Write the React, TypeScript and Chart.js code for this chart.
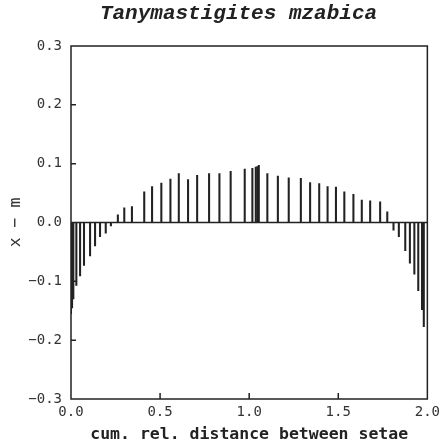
import React, { useEffect, useRef } from "react";
import { Chart, registerables } from "chart.js";
Chart.register(...registerables);

const titleText = "Tanymastigites mzabica";
const xAxisLabel = "cum. rel. distance between setae";
const yAxisLabel = "x \u2212 m";

const positions = [
  0.0, 0.006, 0.013, 0.03, 0.051, 0.073, 0.107, 0.135, 0.163, 0.195, 0.224,
  0.263, 0.299, 0.342, 0.411, 0.455, 0.507, 0.558, 0.605, 0.657, 0.708,
  0.775, 0.833, 0.896, 0.975, 1.018, 1.037, 1.046, 1.054, 1.102, 1.161,
  1.222, 1.29, 1.342, 1.393, 1.44, 1.487, 1.534, 1.585, 1.632, 1.679,
  1.735, 1.775, 1.81, 1.84, 1.876, 1.902, 1.927, 1.949, 1.97, 1.98,
];
const values = [
  -0.155, -0.145, -0.13, -0.107, -0.091, -0.073, -0.057, -0.04, -0.024, -0.018, -0.006,
  0.013, 0.025, 0.027, 0.052, 0.061, 0.067, 0.074, 0.083, 0.073, 0.08,
  0.083, 0.083, 0.087, 0.091, 0.092, 0.094, 0.095, 0.097, 0.083, 0.079,
  0.076, 0.075, 0.068, 0.066, 0.061, 0.06, 0.052, 0.048, 0.038, 0.037,
  0.035, 0.018, -0.013, -0.024, -0.048, -0.069, -0.088, -0.116, -0.148, -0.177,
];
const xTickValues = [0.5, 1.0, 1.5];
const yTickValues = [-0.2, -0.1, 0.1, 0.2];

const ink = "#222";

const fmt = (v: number) => {
  const r = Math.round(v * 10) / 10;
  if (Math.abs(r) < 1e-9) return "0.0";
  return r < 0 ? "\u2212" + Math.abs(r).toFixed(1) : r.toFixed(1);
};

const framePlugin = {
  id: "frame",
  beforeDatasetsDraw(chart: any) {
    const { ctx, chartArea: a, scales } = chart;
    const y0 = scales.y.getPixelForValue(0);
    ctx.save();
    ctx.strokeStyle = ink;
    ctx.lineWidth = 1.5;
    ctx.beginPath();
    ctx.moveTo(a.left, y0);
    ctx.lineTo(a.right, y0);
    ctx.stroke();
    ctx.restore();
  },
  afterDraw(chart: any) {
    const { ctx, chartArea: a, scales } = chart;
    ctx.save();
    ctx.strokeStyle = ink;
    ctx.lineWidth = 1.5;
    ctx.strokeRect(a.left, a.top, a.right - a.left, a.bottom - a.top);
    ctx.beginPath();
    for (const v of yTickValues) {
      const py = scales.y.getPixelForValue(v);
      ctx.moveTo(a.left, py);
      ctx.lineTo(a.left + 5, py);
    }
    for (const v of xTickValues) {
      const px = scales.x.getPixelForValue(v);
      ctx.moveTo(px, a.bottom);
      ctx.lineTo(px, a.bottom - 6);
    }
    ctx.stroke();
    ctx.fillStyle = ink;
    ctx.font = "italic bold 21px 'Liberation Mono'";
    ctx.textAlign = "center";
    ctx.textBaseline = "middle";
    ctx.fillText(titleText, 238.5, 14);
    ctx.restore();
  },
};

export default function App() {
  const ref = useRef<HTMLCanvasElement>(null);
  useEffect(() => {
    document.body.style.margin = "0";
    const chart = new Chart(ref.current!, {
      type: "bar",
      data: {
        datasets: [
          {
            data: positions.map((x, i) => ({ x, y: values[i] })),
            backgroundColor: ink,
            borderWidth: 0,
            barThickness: 1.4,
            grouped: false,
          } as any,
        ],
      },
      options: {
        responsive: false,
        animation: false,
        layout: { padding: { top: 46, right: 17, left: 0, bottom: 0 } },
        plugins: { legend: { display: false }, tooltip: { enabled: false }, title: { display: false } },
        scales: {
          x: {
            type: "linear",
            min: 0,
            max: 2,
            offset: false,
            grid: { display: false, drawTicks: false },
            border: { display: false },
            ticks: {
              stepSize: 0.5,
              padding: 5,
              color: "#333",
              font: { family: "'DejaVu Sans Mono'", size: 14 },
              callback: (v: any) => fmt(Number(v)),
              maxRotation: 0,
            },
            title: {
              display: true,
              text: xAxisLabel,
              color: ink,
              font: { family: "'DejaVu Sans Mono'", size: 16.5, weight: "bold" },
              padding: { top: 0, bottom: 0 },
            },
            afterFit: (s: any) => {
              s.height = 46;
            },
          },
          y: {
            min: -0.3,
            max: 0.3,
            grid: { display: false, drawTicks: false },
            border: { display: false },
            ticks: {
              stepSize: 0.1,
              padding: 9,
              color: "#333",
              font: { family: "'DejaVu Sans Mono'", size: 14 },
              callback: (v: any) => fmt(Number(v)),
            },
            title: {
              display: true,
              text: yAxisLabel,
              color: "#333",
              font: { family: "'DejaVu Sans Mono'", size: 16.5 },
              padding: { top: 6, bottom: 0 },
            },
            afterFit: (s: any) => {
              s.width = 71;
            },
          },
        },
      },
      plugins: [framePlugin],
    });
    return () => chart.destroy();
  }, []);
  return (
    <div style={{ width: 445, height: 445 }}>
      <canvas ref={ref} width={445} height={445} />
    </div>
  );
}
